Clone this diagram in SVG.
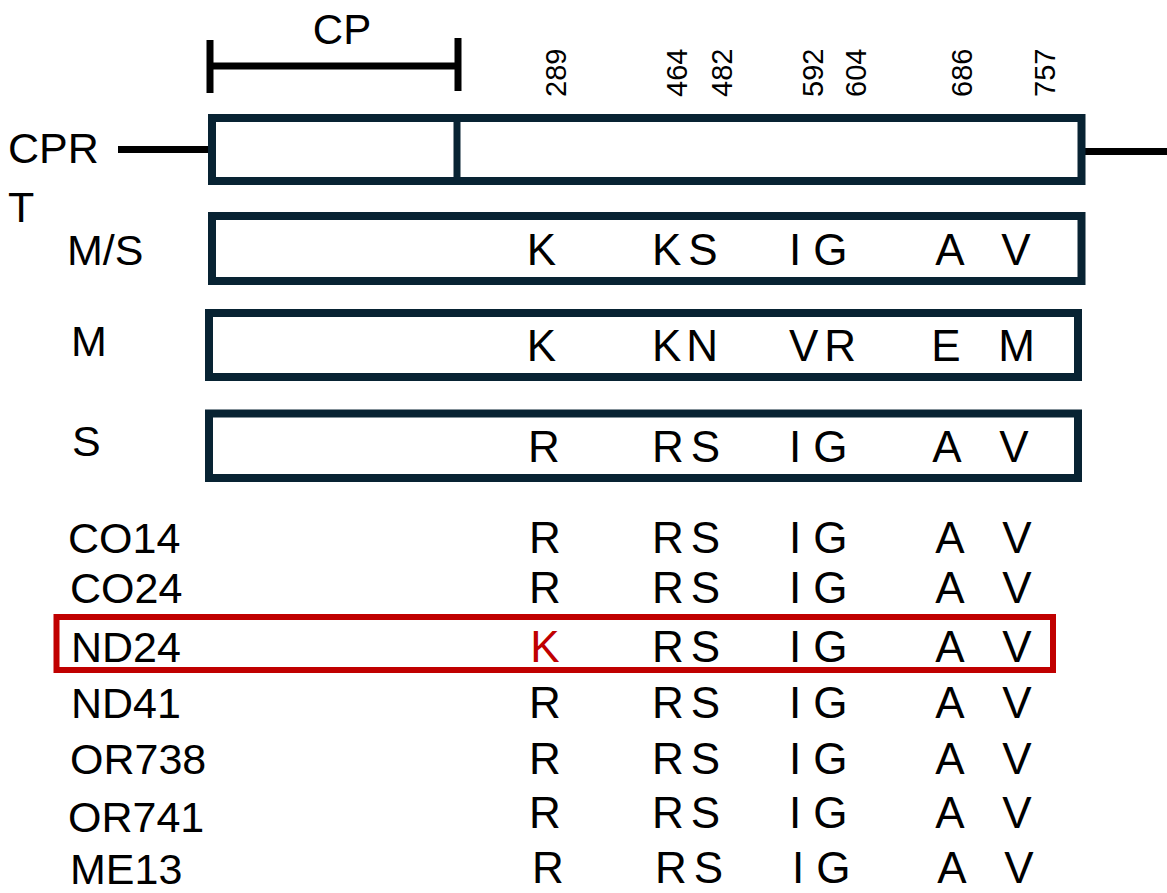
<svg xmlns="http://www.w3.org/2000/svg" width="1167" height="893" viewBox="0 0 1167 893">
<style>
.lbl{font-family:"Liberation Sans",Arial,sans-serif;font-size:43px;fill:#000}
.res{font-family:"Liberation Sans",Arial,sans-serif;font-size:44px;fill:#000}
.mid{text-anchor:middle}
.num{font-family:"Liberation Sans",Arial,sans-serif;font-size:29px;fill:#000}
.box{fill:#fff;stroke:#082333;stroke-width:8}
.blk{stroke:#000;stroke-width:7;fill:none}
.red{fill:none;stroke:#c00000;stroke-width:6}
</style>
<rect width="1167" height="893" fill="#fff"/>
<g id="connectors">
<line class="blk" x1="118" y1="149.5" x2="212" y2="149.5"/>
<line class="blk" x1="1081" y1="151.5" x2="1167" y2="151.5"/>
</g>
<g id="cp-bracket">
<line class="blk" x1="210" y1="40" x2="210" y2="93"/>
<line class="blk" x1="458" y1="38" x2="458" y2="91"/>
<line class="blk" x1="210" y1="66" x2="458" y2="66"/>
<text class="lbl mid" x="342" y="44" style="font-size:42px">CP</text>
</g>
<g id="positions">
<text class="num" transform="translate(566,97) rotate(-90)">289</text>
<text class="num" transform="translate(687,97) rotate(-90)">464</text>
<text class="num" transform="translate(732,97) rotate(-90)">482</text>
<text class="num" transform="translate(823,97) rotate(-90)">592</text>
<text class="num" transform="translate(866,97) rotate(-90)">604</text>
<text class="num" transform="translate(972,97) rotate(-90)">686</text>
<text class="num" transform="translate(1055,97) rotate(-90)">757</text>
</g>
<g id="cprt">
<rect class="box" x="212" y="118" width="869.5" height="63"/>
<line x1="457" y1="118" x2="457" y2="181" stroke="#082333" stroke-width="7"/>
<text class="lbl" x="8" y="163">CPR</text>
<text class="lbl" x="8" y="222">T</text>
</g>
<g id="ms">
<rect class="box" x="212" y="216" width="869.5" height="65"/>
<text class="lbl" x="67" y="265">M/S</text>
<text class="res mid" x="541.5" y="265">K</text>
<text class="res" x="652" y="265" letter-spacing="7">KS</text>
<text class="res" x="789" y="265" letter-spacing="12">IG</text>
<text class="res mid" x="950" y="265">A</text>
<text class="res mid" x="1016" y="265">V</text>
</g>
<g id="m">
<rect class="box" x="209" y="313" width="869" height="64"/>
<text class="lbl" x="71" y="356">M</text>
<text class="res mid" x="541.5" y="361">K</text>
<text class="res" x="652" y="361" letter-spacing="5">KN</text>
<text class="res" x="789" y="361" letter-spacing="6">VR</text>
<text class="res mid" x="946" y="361">E</text>
<text class="res mid" x="1016.5" y="361">M</text>
</g>
<g id="s">
<rect class="box" x="209" y="413.5" width="869" height="64.5"/>
<text class="lbl" x="72" y="456">S</text>
<text class="res mid" x="544" y="462">R</text>
<text class="res" x="652" y="462" letter-spacing="7">RS</text>
<text class="res" x="789" y="462" letter-spacing="12">IG</text>
<text class="res mid" x="947" y="462">A</text>
<text class="res mid" x="1014" y="462">V</text>
</g>
<g id="co14">
<text class="lbl" x="68" y="553">CO14</text>
<text class="res mid" x="545" y="553">R</text>
<text class="res" x="652" y="553" letter-spacing="7">RS</text>
<text class="res" x="789" y="553" letter-spacing="12">IG</text>
<text class="res mid" x="950" y="553">A</text>
<text class="res mid" x="1017" y="553">V</text>
</g>
<g id="co24">
<text class="lbl" x="70" y="603">CO24</text>
<text class="res mid" x="545" y="603">R</text>
<text class="res" x="652" y="603" letter-spacing="7">RS</text>
<text class="res" x="789" y="603" letter-spacing="12">IG</text>
<text class="res mid" x="950" y="603">A</text>
<text class="res mid" x="1017" y="603">V</text>
</g>
<g id="nd24">
<rect class="red" x="56.5" y="617" width="996.5" height="53"/>
<text class="lbl" x="71" y="662">ND24</text>
<text class="res mid" x="545" y="662" style="fill:#c00000">K</text>
<text class="res" x="652" y="662" letter-spacing="7">RS</text>
<text class="res" x="789" y="662" letter-spacing="12">IG</text>
<text class="res mid" x="950" y="662">A</text>
<text class="res mid" x="1017" y="662">V</text>
</g>
<g id="nd41">
<text class="lbl" x="71" y="718">ND41</text>
<text class="res mid" x="545" y="718">R</text>
<text class="res" x="652" y="718" letter-spacing="7">RS</text>
<text class="res" x="789" y="718" letter-spacing="12">IG</text>
<text class="res mid" x="950" y="718">A</text>
<text class="res mid" x="1017" y="718">V</text>
</g>
<g id="or738">
<text class="lbl" x="70" y="774">OR738</text>
<text class="res mid" x="545" y="774">R</text>
<text class="res" x="652" y="774" letter-spacing="7">RS</text>
<text class="res" x="789" y="774" letter-spacing="12">IG</text>
<text class="res mid" x="950" y="774">A</text>
<text class="res mid" x="1017" y="774">V</text>
</g>
<g id="or741">
<text class="lbl" x="68" y="832">OR741</text>
<text class="res mid" x="545" y="828">R</text>
<text class="res" x="652" y="828" letter-spacing="7">RS</text>
<text class="res" x="789" y="828" letter-spacing="12">IG</text>
<text class="res mid" x="950" y="828">A</text>
<text class="res mid" x="1017" y="828">V</text>
</g>
<g id="me13">
<text class="lbl" x="70" y="884">ME13</text>
<text class="res mid" x="548" y="883">R</text>
<text class="res" x="655" y="883" letter-spacing="7">RS</text>
<text class="res" x="792" y="883" letter-spacing="12">IG</text>
<text class="res mid" x="952" y="883">A</text>
<text class="res mid" x="1019" y="883">V</text>
</g>
</svg>
